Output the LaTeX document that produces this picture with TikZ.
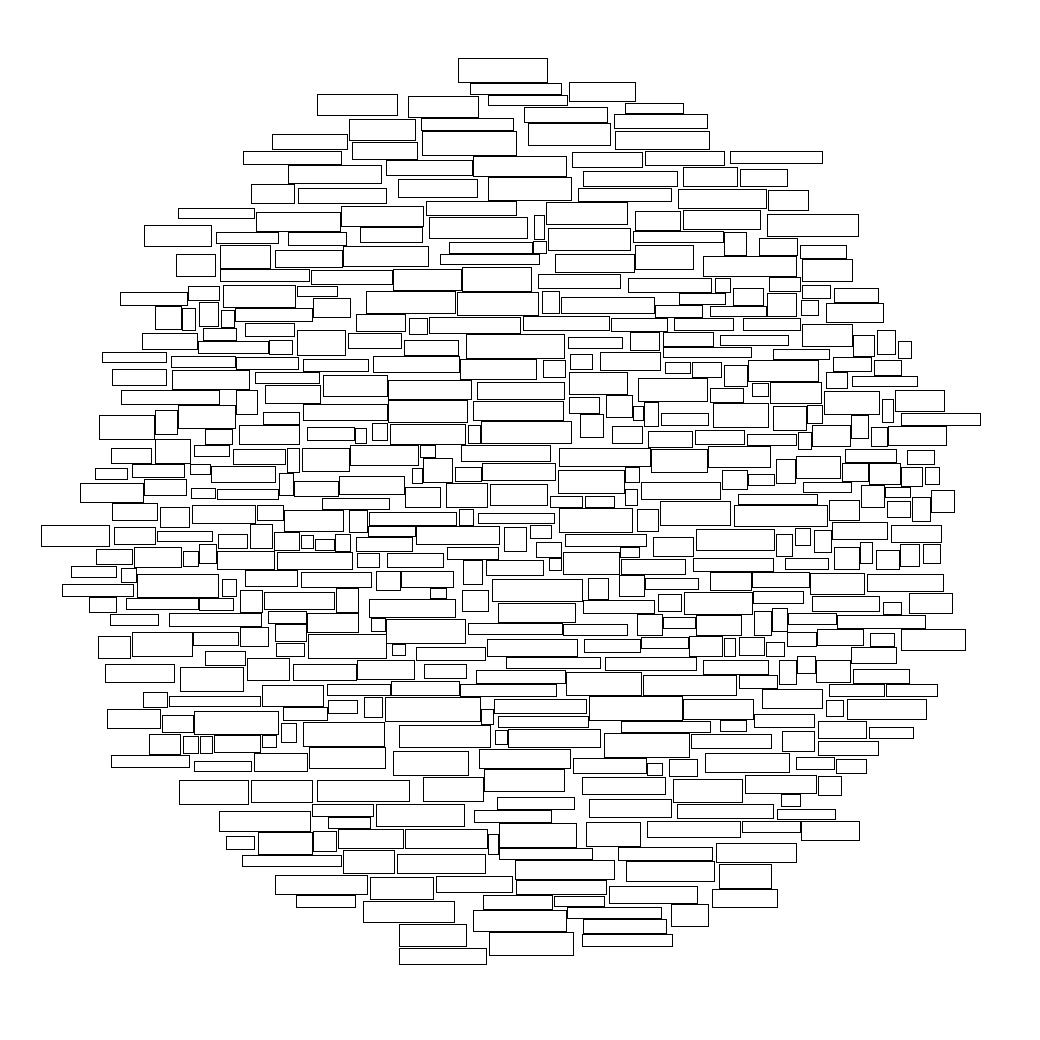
\documentclass[tikz,border=0pt]{standalone}
\usepackage{tikz}
\tikzstyle{brick}=[draw=black,line width=0.75pt]
\tikzstyle{frame}=[draw=none,fill=white]

\begin{document}
\begin{tikzpicture}[x=0.75pt,y=-0.75pt]
            \path[frame] (0,0) rectangle (1040,1040);
            \useasboundingbox (0,0) rectangle (1040,1040);

            % TOP PART

            \foreach \xa/\ya/\xb/\yb in {458/58/547/82, 470/83/561/94, 569/82/635/101, 488/95/567/105,
              317/94/397/115, 408/96/478/117, 524/107/607/122, 625/103/683/113, 614/114/707/128,
              349/119/415/140, 421/118/513/130, 528/123/610/145, 615/131/709/149, 422/131/516/155,
              272/134/347/149, 352/142/417/159, 243/151/341/164, 572/152/642/167, 645/151/724/165,
              730/151/822/163, 386/160/472/175, 473/156/566/176, 288/165/381/183, 583/171/677/186,
              683/167/737/186, 740/169/787/186, 398/179/477/197, 251/184/294/203, 298/188/386/203,
              488/177/571/200, 578/188/671/201, 678/189/766/208, 768/190/808/210, 426/201/516/215,
              178/208/254/218, 256/212/340/231, 341/206/423/226, 546/202/627/224, 635/211/680/230,
              683/210/760/229, 767/214/858/236, 429/217/527/238, 534/215/544/239, 144/225/211/246,
              216/232/278/243, 288/232/346/245, 360/227/422/242, 548/228/630/250, 633/231/723/242,
              724/232/746/255, 759/238/797/255, 800/245/846/258, 449/242/532/253, 533/241/546/253,
              220/245/270/268, 275/250/342/267, 343/246/428/266, 440/254/539/264, 555/254/634/272,
              635/245/693/269, 703/256/796/276, 802/259/852/281, 176/254/215/276, 220/269/309/281,
              311/270/392/284, 393/269/461/290, 462/267/531/291, 538/274/620/288, 628/278/711/292,
              715/278/730/292, 769/277/800/291, 733/288/763/305, 802/285/830/298, 834/288/878/302}
              \draw[brick] (\xa,\ya) rectangle (\xb,\yb);

            \foreach \xa/\ya/\xb/\yb in {120/292/187/305, 188/286/219/300, 223/285/295/307, 297/286/337/296,
              366/291/455/313, 457/292/538/315, 542/291/559/313, 561/297/654/313, 679/293/725/304,
              767/293/796/316, 801/300/818/315, 826/303/883/322, 155/306/181/329, 182/308/195/330,
              199/302/218/326, 221/310/234/327, 235/308/312/321, 313/298/350/317, 655/305/702/317,
              710/306/766/316, 356/314/405/331, 409/318/427/334, 429/317/520/333, 523/316/609/330,
              611/318/667/331, 674/318/733/330, 743/318/800/330, 802/324/852/346, 142/333/197/349,
              203/328/236/340, 245/323/294/336, 198/341/268/353, 269/340/292/354, 297/330/345/355,
              348/333/401/348, 404/340/458/355, 466/334/564/358, 568/337/622/348, 630/332/659/350,
              663/332/713/346, 720/335/788/345, 853/335/874/356, 877/330/895/354, 898/341/911/358,
              663/347/751/357, 773/349/829/359}
              \draw[brick] (\xa,\ya) rectangle (\xb,\yb);

            % LEFT PART

            \foreach \xa/\ya/\xb/\yb in {102/352/166/362, 171/356/235/367, 236/357/298/369, 303/359/368/371,
              112/369/166/385, 172/370/249/389, 255/372/319/383, 323/375/387/396, 121/390/219/404,
              219/389/236/405, 236/390/257/414, 265/385/320/403, 303/404/387/420, 99/415/154/439,
              155/410/177/434, 178/405/235/428, 263/412/299/424, 205/429/232/444, 239/425/299/444,
              307/427/354/440, 111/448/151/463, 155/439/190/463, 194/445/229/456, 233/449/285/464,
              287/448/299/472, 302/448/349/471, 95/468/127/479, 132/464/184/477, 190/464/210/474,
              211/466/275/482, 279/473/293/495, 294/481/338/496, 339/476/404/494, 80/483/143/502,
              144/479/186/495, 191/488/215/498, 217/489/278/499, 322/498/389/509, 112/503/157/520,
              160/507/189/527, 192/505/255/523, 257/505/283/520, 284/510/343/531, 41/525/109/546,
              114/527/155/544, 157/531/212/541, 218/534/247/548, 250/524/272/548, 274/532/299/550,
              301/535/313/548, 315/539/334/550, 335/534/350/551, 96/549/132/564, 134/547/181/567,
              183/551/198/566, 199/544/216/563, 217/551/274/569, 277/552/352/569, 71/566/116/577,
              121/568/136/582, 137/574/218/597, 222/579/236/596, 245/570/297/586, 301/572/371/587,
              62/584/133/596, 89/597/116/612, 126/598/198/609, 199/598/233/610, 240/590/262/612,
              264/592/334/609, 336/588/358/612, 110/614/158/625, 169/613/261/626, 268/611/306/623,
              307/613/358/632, 98/636/130/658, 132/632/192/656, 193/632/238/645, 240/627/268/646,
              275/624/306/641, 308/634/386/658}
              \draw[brick] (\xa,\ya) rectangle (\xb,\yb);

            % MIDDLE PART

            \foreach \xa/\ya/\xb/\yb in {373/356/459/372, 460/359/536/379, 543/360/565/377, 570/354/592/369,
              600/352/660/370, 388/380/471/399, 477/382/564/399, 569/372/627/394, 638/378/707/401,
              388/400/467/422, 473/401/563/420, 569/397/599/413, 606/395/632/417, 633/406/643/420,
              644/402/658/426, 355/428/366/443, 372/423/387/440, 390/424/465/444, 468/425/480/443,
              481/421/571/443, 580/414/603/437, 612/426/642/443, 648/431/692/447, 350/445/418/465,
              420/445/435/457, 461/445/550/461, 559/448/650/466, 651/449/707/472, 412/468/422/483,
              423/458/452/482, 455/467/481/481, 482/463/555/480, 558/470/624/493, 625/467/639/482,
              405/487/440/507, 446/483/487/507, 490/484/547/505, 550/496/582/507, 585/496/614/507,
              625/489/637/505, 641/482/720/499, 349/510/367/532, 369/512/456/525, 459/509/473/525,
              478/513/554/523, 559/508/632/532, 637/509/658/531, 368/526/415/536, 416/526/499/544,
              504/527/526/551, 530/525/551/538, 565/534/646/546, 653/537/693/556, 356/537/412/551,
              447/547/498/559, 536/542/561/557, 549/558/561/570, 620/547/639/557, 357/553/379/567,
              387/553/443/567, 463/560/482/584, 486/560/543/575, 563/552/619/574, 621/559/685/574,
              376/571/400/590, 401/571/453/587, 492/579/582/601, 588/578/608/599, 619/575/644/596,
              645/578/698/589, 430/588/446/598, 462/590/488/611, 658/594/681/611, 369/599/455/617,
              498/603/575/622, 583/600/654/613, 371/618/385/631, 386/619/465/643, 468/623/562/634,
              563/624/627/635, 637/614/662/635, 487/639/577/656, 584/639/640/652, 641/637/688/648}
              \draw[brick] (\xa,\ya) rectangle (\xb,\yb);

            % RIGHT PART

            \foreach \xa/\ya/\xb/\yb in {665/362/690/373, 692/362/721/377, 724/365/747/386, 748/360/818/381,
              833/357/871/371, 874/360/901/375, 710/388/743/402, 752/383/768/396, 770/382/821/403,
              826/372/847/388, 852/376/917/386, 824/391/879/414, 882/399/893/422, 895/390/944/411,
              661/413/708/425, 713/403/768/427, 773/406/806/430, 807/405/822/423, 901/413/980/425,
              695/430/744/444, 747/434/796/445, 798/432/811/449, 812/425/850/446, 851/415/868/438,
              871/427/887/446, 888/426/946/445, 708/446/770/467, 845/449/896/462, 907/450/934/464,
              776/459/795/483, 796/456/840/478, 842/463/868/481, 869/463/900/484, 901/467/922/486,
              925/467/939/484, 722/470/747/489, 748/474/774/485, 803/482/851/492, 861/485/884/507,
              885/487/910/497, 738/494/817/504, 660/501/730/525, 734/505/827/526, 829/500/859/520,
              887/501/910/517, 912/497/930/521, 931/490/954/512, 696/529/774/550, 776/534/792/556,
              795/528/810/545, 814/530/831/552, 832/522/887/539, 891/525/941/542, 834/547/859/569,
              860/542/872/563, 876/550/899/569, 900/544/919/566, 923/544/940/563, 693/558/773/571,
              785/558/828/569, 710/572/751/590, 752/572/809/587, 810/573/864/594, 867/574/943/591,
              684/592/752/614, 753/591/803/603, 812/596/879/611, 883/602/901/614, 909/593/952/613,
              663/617/695/628, 696/615/741/635, 754/611/771/635, 772/608/787/631, 788/613/836/624,
              837/615/925/628, 689/636/722/656, 724/638/735/656, 739/637/764/655, 766/642/784/656,
              787/632/816/646, 817/629/863/645, 870/633/894/646, 901/629/965/650}
              \draw[brick] (\xa,\ya) rectangle (\xb,\yb);

            % BOTTOM PART

            \foreach \xa/\ya/\xb/\yb in {276/643/304/656, 392/644/405/655, 205/651/245/665, 105/664/174/682,
              180/667/243/691, 247/658/289/680, 293/664/356/680, 357/660/414/679, 143/692/167/707,
              169/696/260/706, 262/685/323/706, 327/684/390/695, 391/681/459/695, 328/700/357/713,
              364/697/382/717, 385/697/480/721, 107/709/160/728, 162/715/193/732, 194/711/278/734,
              283/707/327/720, 281/723/296/742, 303/722/384/746, 399/725/490/747, 149/734/180/754,
              183/736/198/753, 200/736/212/753, 214/735/260/752, 262/735/276/747, 111/755/189/767,
              194/761/251/771, 254/753/307/771, 309/747/385/768, 393/751/468/775, 179/780/248/804,
              251/780/312/802, 317/780/409/801, 312/804/373/816, 376/804/464/826, 219/811/310/831,
              328/817/370/828, 226/836/254/849, 258/832/312/854, 313/831/336/851, 338/829/403/848,
              242/855/341/866, 343/850/394/873, 397/854/485/873, 275/875/367/894, 296/895/355/907,
              370/877/433/899, 363/901/454/922, 399/924/466/946, 399/948/486/964}
              \draw[brick] (\xa,\ya) rectangle (\xb,\yb);

            \foreach \xa/\ya/\xb/\yb in {416/647/485/660, 424/664/466/678, 506/657/600/668, 605/657/696/670,
              476/670/565/683, 566/672/641/695, 643/675/736/695, 460/684/556/696, 481/709/493/724,
              494/699/586/713, 589/696/682/720, 683/699/753/719, 498/716/588/727, 621/721/710/732,
              495/730/507/744, 508/729/600/747, 604/733/689/757, 691/734/771/748, 479/749/570/768,
              573/758/646/773, 647/763/662/775, 669/759/697/776, 484/769/564/791, 423/777/483/801,
              582/777/665/794, 673/779/742/802, 497/797/574/809, 474/810/551/822, 589/799/671/817,
              677/804/773/818, 405/829/487/848, 488/834/498/854, 499/823/576/847, 586/822/640/846,
              647/821/740/837, 499/848/592/859, 618/847/712/860, 515/860/614/879, 626/861/714/881,
              436/876/512/892, 516/880/606/894, 609/886/697/903, 483/895/552/909, 554/896/604/906,
              671/904/708/926, 473/910/566/931, 567/907/661/918, 583/919/666/933, 489/932/573/955,
              582/934/672/946}
              \draw[brick] (\xa,\ya) rectangle (\xb,\yb);

            \foreach \xa/\ya/\xb/\yb in {851/647/896/663, 703/660/768/674, 779/660/796/684, 797/656/815/673,
              816/660/850/682, 853/669/909/683, 739/675/777/688, 829/684/884/696, 886/684/937/696,
              762/689/822/708, 826/700/843/716, 847/699/926/719, 754/714/814/727, 720/720/746/731,
              818/721/866/738, 869/727/913/738, 782/731/814/751, 818/741/878/755, 705/753/789/772,
              796/757/834/769, 836/759/866/773, 745/775/816/793, 818/776/841/795, 781/794/800/806,
              777/809/835/819, 742/821/800/832, 801/821/859/840, 716/843/796/862, 719/864/771/888,
              712/889/777/907}
              \draw[brick] (\xa,\ya) rectangle (\xb,\yb);

\end{tikzpicture}
\end{document}
